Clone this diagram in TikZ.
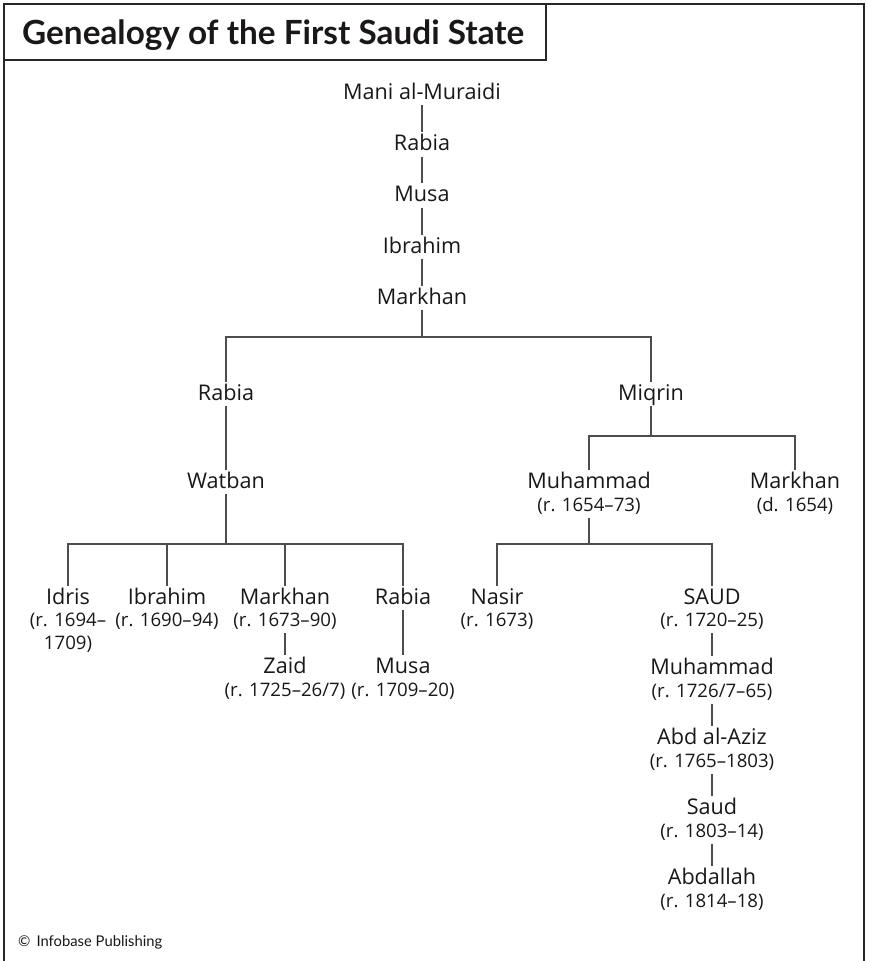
\documentclass[tikz,border=0pt]{standalone}
\usepackage{fontspec}
\setmainfont{Open Sans}
\newfontfamily\titlefont{Lato}
\definecolor{ink}{HTML}{1A1718}
\definecolor{linegray}{HTML}{4D4D4D}
\newcommand{\namefont}{\fontsize{21.6}{23}\selectfont}
\newcommand{\datefont}{\fontsize{18.6}{23}\selectfont}
\tikzset{
  nm/.style={anchor=base, font=\namefont, text=ink, text height=14pt, text depth=2pt, inner xsep=2pt, inner ysep=4pt},
  dt/.style={anchor=base, font=\datefont, text=ink, text height=11pt, text depth=3pt, inner xsep=2pt, inner ysep=4pt},
  ln/.style={draw=linegray, line width=1.3pt},
  frame/.style={draw=black!85, line width=2.6pt},
}
\begin{document}
\begin{tikzpicture}[x=1pt,y=-1pt]
\useasboundingbox (0,0) rectangle (868,961);
\fill[white] (0,0) rectangle (868,961);
% frame
\draw[frame] (4,961) -- (4,4) -- (864,4) -- (864,961);
\draw[frame] (4,60) -- (546,60) -- (546,4);
\node[anchor=base west, font=\titlefont\bfseries\fontsize{33.3}{36}\selectfont, text=ink, inner sep=0pt] (title) at (22,44) {Genealogy of the First Saudi State};
\node[anchor=base west, font=\titlefont\fontsize{14.8}{16}\selectfont, text=ink, inner sep=0pt] (copy) at (18,946) {©\hspace{6pt}Infobase Publishing};

% top chain
\node[nm] (mani) at (422,99) {Mani al-Muraidi};
\node[nm] (rabiaA) at (422,150.5) {Rabia};
\node[nm] (musaA) at (422,201.5) {Musa};
\node[nm] (ibrahimA) at (422,253) {Ibrahim};
\node[nm] (markhanA) at (422,304) {Markhan};
\draw[ln] (mani) -- (rabiaA);
\draw[ln] (rabiaA) -- (musaA);
\draw[ln] (musaA) -- (ibrahimA);
\draw[ln] (ibrahimA) -- (markhanA);

% second level
\node[nm] (rabiaB) at (226,400) {Rabia};
\node[nm] (miqrin) at (651,400) {Miqrin};
\coordinate (b1) at (422,337);
\draw[ln] (markhanA) -- (b1);
\draw[ln] (rabiaB.north) |- (b1) -| (miqrin.north);

% left branch
\node[nm] (watban) at (226,488) {Watban};
\draw[ln] (rabiaB) -- (watban);
\coordinate (b2) at (226,544);
\draw[ln] (watban) -- (b2);
\node[nm] (idris) at (68,604) {Idris};
\node[dt] (idrisd) at (68,626) {(r. 1694–};
\node[dt] (idrisd2) at (68,649) {1709)};
\node[nm] (ibrahimB) at (167,604) {Ibrahim};
\node[dt] (ibrahimBd) at (167,626) {(r. 1690–94)};
\node[nm] (markhanB) at (285,604) {Markhan};
\node[dt] (markhanBd) at (285,626) {(r. 1673–90)};
\node[nm] (rabiaC) at (403,604) {Rabia};
\draw[ln] (idris.north) |- (b2) -| (rabiaC.north);
\draw[ln] (ibrahimB.north) -- (ibrahimB.north |- b2);
\draw[ln] (markhanB.north) -- (markhanB.north |- b2);
\node[nm] (zaid) at (285,673) {Zaid};
\node[dt] (zaidd) at (285,696) {(r. 1725–26/7)};
\draw[ln] (markhanBd) -- (zaid);
\node[nm] (musaB) at (403,673) {Musa};
\node[dt] (musaBd) at (403,696) {(r. 1709–20)};
\draw[ln] (rabiaC) -- (musaB);

% right branch
\node[nm] (muhA) at (589,488) {Muhammad};
\node[dt] (muhAd) at (589,511) {(r. 1654–73)};
\node[nm] (markhanC) at (795,488) {Markhan};
\node[dt] (markhanCd) at (795,511) {(d. 1654)};
\coordinate (b3) at (651,436);
\draw[ln] (miqrin) -- (b3);
\draw[ln] (muhA.north) |- (b3) -| (markhanC.north);

\coordinate (b4) at (589,544);
\draw[ln] (muhAd) -- (b4);
\node[nm] (nasir) at (497,604) {Nasir};
\node[dt] (nasird) at (497,626) {(r. 1673)};
\node[nm] (saudA) at (712,604) {SAUD};
\node[dt] (saudAd) at (712,626) {(r. 1720–25)};
\draw[ln] (nasir.north) |- (b4) -| (saudA.north);

\node[nm] (muhB) at (712,674) {Muhammad};
\node[dt] (muhBd) at (712,697) {(r. 1726/7–65)};
\node[nm] (abdaziz) at (712,744) {Abd al-Aziz};
\node[dt] (abdazizd) at (712,767) {(r. 1765–1803)};
\node[nm] (saudB) at (712,814) {Saud};
\node[dt] (saudBd) at (712,837) {(r. 1803–14)};
\node[nm] (abdallah) at (712,884) {Abdallah};
\node[dt] (abdallahd) at (712,907) {(r. 1814–18)};
\draw[ln] (saudAd) -- (muhB);
\draw[ln] (muhBd) -- (abdaziz);
\draw[ln] (abdazizd) -- (saudB);
\draw[ln] (saudBd) -- (abdallah);
\end{tikzpicture}
\end{document}
